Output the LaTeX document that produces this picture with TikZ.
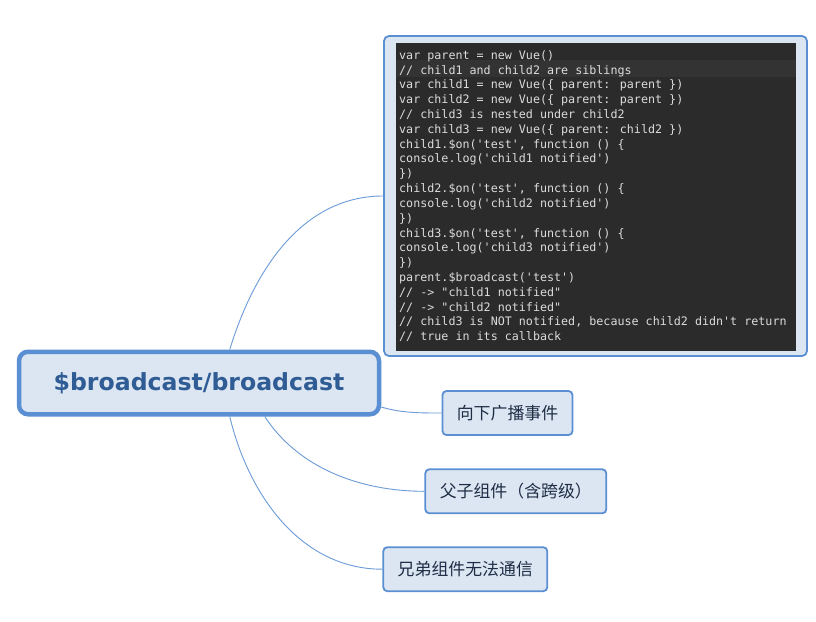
\documentclass[tikz,border=0pt]{standalone}
\usepackage{fontspec}
\setmainfont{DejaVu Sans}
\newfontfamily\codefont{DejaVu Sans Mono}
\newfontfamily\cjkfont{Noto Sans CJK SC}
\definecolor{boxfill}{HTML}{DCE6F2}
\definecolor{boxline}{HTML}{5A8FD3}
\definecolor{linkc}{HTML}{6B9BD8}
\definecolor{roottext}{HTML}{2F5C94}
\definecolor{childtext}{HTML}{1E2D45}
\definecolor{codebg}{HTML}{2B2B2B}
\definecolor{codehl}{HTML}{333333}
\definecolor{codetext}{HTML}{DCDCDC}
\tikzset{
  rootbox/.style={draw=boxline, fill=boxfill, line width=4.5pt, rounded corners=9pt,
    minimum width=360pt, minimum height=62.5pt, inner sep=0pt,
    font=\fontsize{23.6}{26}\selectfont\bfseries, text=roottext},
  childbox/.style={draw=boxline, fill=boxfill, line width=1.8pt, rounded corners=4pt,
    minimum height=44pt, inner sep=0pt,
    font=\cjkfont\fontsize{16.9}{19}\selectfont, text=childtext},
  codebox/.style={draw=boxline, fill=boxfill, line width=1.8pt, rounded corners=5pt,
    minimum width=423pt, minimum height=320pt, inner sep=0pt},
  codeline/.style={anchor=base west, inner sep=0pt, text=codetext,
    font=\codefont\fontsize{11.7}{14}\selectfont},
  link/.style={draw=linkc, line width=0.9pt}
}
\begin{document}
\begin{tikzpicture}[x=1pt,y=-1pt]
\useasboundingbox[fill=white] (0,0) rectangle (816,621);
% nodes
\node[rootbox] (root) at (199,383) {\$broadcast/broadcast};
\node[codebox] (code) at (595.5,196) {};
\fill[codebg] (396,43) rectangle (796,350.5);
\fill[codehl] (396,59.5) rectangle (796,77);
\foreach \txt [count=\i from 0] in {
  {var parent = new Vue()},
  {// child1 and child2 are siblings},
  {var child1 = new Vue(\{ parent: parent \})},
  {var child2 = new Vue(\{ parent: parent \})},
  {// child3 is nested under child2},
  {var child3 = new Vue(\{ parent: child2 \})},
  {child1.\$on('test', function () \{},
  {console.log('child1 notified')},
  {\})},
  {child2.\$on('test', function () \{},
  {console.log('child2 notified')},
  {\})},
  {child3.\$on('test', function () \{},
  {console.log('child3 notified')},
  {\})},
  {parent.\$broadcast('test')},
  {// -> "child1 notified"},
  {// -> "child2 notified"},
  {// child3 is NOT notified, because child2 didn't return},
  {// true in its callback}}
  \node[codeline] (line\i) at (399,{59.3+14.81*\i}) {\txt};
\node[childbox, minimum width=130pt] (c1) at (507.5,413) {向下广播事件};
\node[childbox, minimum width=181pt] (c2) at (515.8,491.3) {父子组件（含跨级）};
\node[childbox, minimum width=164pt] (c3) at (465.3,569.2) {兄弟组件无法通信};
% connectors
\draw[link] ([xshift=213pt]root.north west) .. controls +(28,-91) and +(-74,0) .. (code.west);
\draw[link] ([yshift=-24pt]root.east) .. controls +(20,6) and +(-22,0) .. (c1.west);
\draw[link] ([xshift=248pt]root.south west) .. controls +(33,51) and +(-65,0) .. (c2.west);
\draw[link] ([xshift=213pt]root.south west) .. controls +(18,76) and +(-83,0) .. (c3.west);
\end{tikzpicture}
\end{document}
